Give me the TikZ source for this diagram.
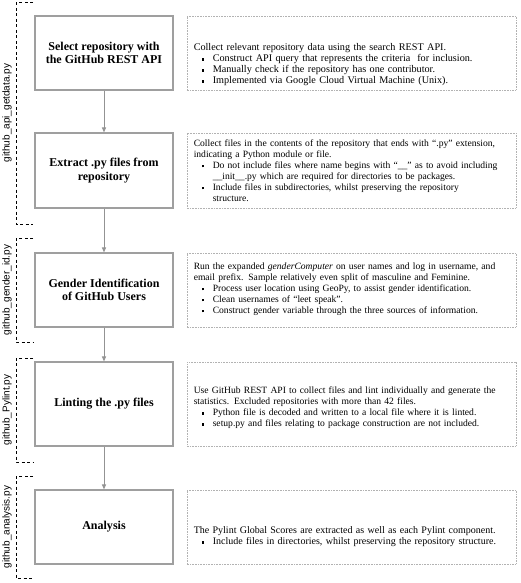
\documentclass[tikz,border=0pt]{standalone}
\usepackage{fontspec}
\setmainfont{Liberation Serif}
\setsansfont{Liberation Sans}
\usetikzlibrary{arrows.meta, positioning}
\newcommand{\bul}{\rule[1pt]{2.6pt}{2.6pt}}
\newcommand{\itm}[1]{\par\noindent\hspace*{8pt}\makebox[11pt][l]{\bul}#1}
\newcommand{\cnt}[1]{\par\noindent\hspace*{19pt}#1}

\begin{document}
\begin{tikzpicture}[
    x=1pt, y=-1pt,
    stage/.style={draw=gray!75, line width=1.1pt, minimum width=138pt, minimum height=74pt,
                  align=center, inner sep=2pt, font=\fontsize{12}{13.5}\selectfont\bfseries},
    descbox/.style={draw=gray!60, densely dotted, line width=0.6pt, minimum width=329pt,
                    minimum height=74pt},
    desc/.style={anchor=west, text width=322pt, align=left, inner sep=0pt,
                 font=\fontsize{9.6}{11}\selectfont},
    script/.style={rotate=90, font=\sffamily\fontsize{10}{12}\selectfont},
    bracket/.style={dash pattern=on 3pt off 2.5pt, line width=1pt},
    arr/.style={-{Triangle[length=5pt, width=4pt]}, draw=gray!85, fill=gray!85, line width=1pt},
]
\useasboundingbox (0,0) rectangle (520,583);

% stages
\node[stage] (select) at (104,53) {Select repository with\\the GitHub REST API};
\node[stage, minimum height=75pt] (extract) at (104,170.5) {Extract .py files from\\repository};
\node[stage] (gender) at (104,290) {Gender Identification\\of GitHub Users};
\node[stage, minimum height=84pt] (lint) at (104,404) {Linting the .py files};
\node[stage] (analysis) at (104,527) {Analysis};

% descriptions
\node[descbox, right=13pt of select] (dselect) {};
\node[descbox, minimum height=75pt, right=13pt of extract] (dextract) {};
\node[descbox, right=13pt of gender] (dgender) {};
\node[descbox, minimum height=84pt, right=13pt of lint] (dlint) {};
\node[descbox, right=13pt of analysis] (danalysis) {};

\node[desc, font=\fontsize{10.2}{11}\selectfont] (tselect)
  at ([xshift=7pt, yshift=-12pt]dselect.west) {%
  Collect relevant repository data using the search REST API.
  \itm{Construct API query that represents the criteria\ \ for inclusion.}
  \itm{Manually check if the repository has one contributor.}
  \itm{Implemented\ via Google Cloud Virtual Machine (Unix).}};
\node[desc] (textract) at ([xshift=7pt]dextract.west) {%
  Collect files\ in the contents of the repository that ends with ``.py'' extension,\\
  indicating a Python module or file.
  \itm{Do not include files\ where name begins with ``\_\_'' as to avoid including}
  \cnt{\_\_init\_\_.py which are required for directories to be packages.}
  \itm{Include files\ in subdirectories, whilst preserving the repository}
  \cnt{structure.}};
\node[desc] (tgender) at ([xshift=7pt, yshift=1pt]dgender.west) {%
  Run the expanded \textit{genderComputer} on user names and log in username, and\\
  email prefix. Sample relatively even split of masculine and Feminine.
  \itm{Process user location using GeoPy, to assist gender identification.}
  \itm{Clean usernames of ``leet speak''.}
  \itm{Construct gender variable through the three sources of information.}};
\node[desc] (tlint) at ([xshift=7pt, yshift=-4pt]dlint.west) {%
  Use GitHub REST API to collect files\ and lint individually and generate the\\
  statistics. Excluded repositories with more than 42 files.
  \itm{Python file\ is\ decoded and written to a local file\ where it is linted.}
  \itm{setup.py and files relating to package construction are not included.}};
\node[desc, font=\fontsize{10}{11}\selectfont] (tanalysis)
  at ([xshift=7pt, yshift=-10pt]danalysis.west) {%
  The Pylint Global Scores are extracted as well as each Pylint component.
  \itm{Include files\ in\ directories, whilst preserving the repository structure.}};

% flow
\draw[arr] (select) -- (extract);
\draw[arr] (extract) -- (gender);
\draw[arr] (gender) -- (lint);
\draw[arr] (lint) -- (analysis);

% script brackets
\draw[bracket] (33,3) -| (16,224) -- (33,224);
\draw[bracket] (33,238) -| (16,342) -- (33,342);
\draw[bracket] (33,358) -| (16,462) -- (33,462);
\draw[bracket] (33,476) -| (16,578) -- (33,578);
\node[script] (sapi) at (7,113) {github\_api\_getdata.py};
\node[script] (sgender) at (7,290) {github\_gender\_id.py};
\node[script] (slint) at (7,410) {github\_Pylint.py};
\node[script] (sanalysis) at (7,527) {github\_analysis.py};

\end{tikzpicture}
\end{document}
